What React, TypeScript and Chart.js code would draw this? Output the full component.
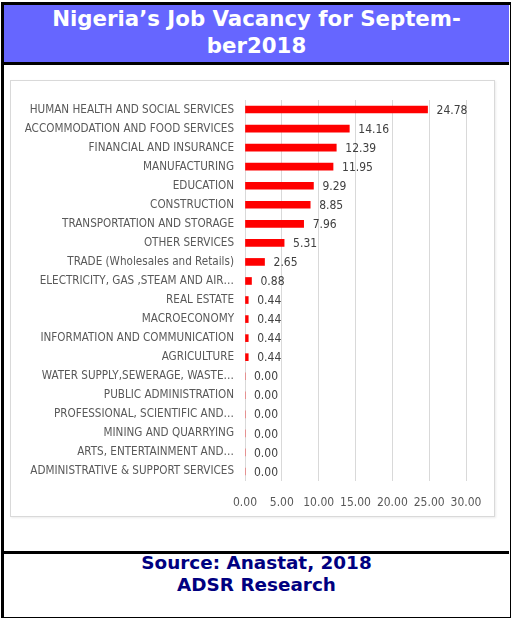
import React, { useEffect, useRef } from "react";
import { Chart, registerables } from "chart.js";

Chart.register(...registerables);

const categories = [
  "HUMAN HEALTH AND SOCIAL SERVICES",
  "ACCOMMODATION AND FOOD SERVICES",
  "FINANCIAL AND INSURANCE",
  "MANUFACTURING",
  "EDUCATION",
  "CONSTRUCTION",
  "TRANSPORTATION AND STORAGE",
  "OTHER SERVICES",
  "TRADE (Wholesales and Retails)",
  "ELECTRICITY, GAS ,STEAM AND AIR…",
  "REAL ESTATE",
  "MACROECONOMY",
  "INFORMATION AND COMMUNICATION",
  "AGRICULTURE",
  "WATER SUPPLY,SEWERAGE, WASTE…",
  "PUBLIC ADMINISTRATION",
  "PROFESSIONAL, SCIENTIFIC AND…",
  "MINING AND QUARRYING",
  "ARTS, ENTERTAINMENT AND…",
  "ADMINISTRATIVE & SUPPORT SERVICES",
];

const vacancyShare = [
  24.78, 14.16, 12.39, 11.95, 9.29, 8.85, 7.96, 5.31, 2.65, 0.88, 0.44, 0.44,
  0.44, 0.44, 0.0, 0.0, 0.0, 0.0, 0.0, 0.0,
];

const xMin = 0;
const xMax = 30;
const xStep = 5;

const titleLines = ["Nigeria’s Job Vacancy for Septem-", "ber2018"];
const sourceLines = ["Source: Anastat, 2018", "ADSR Research"];

const LABEL_FONT = "'Liberation Sans Narrow', 'DejaVu Sans Condensed', Arial, sans-serif";

const valueLabels = {
  id: "valueLabels",
  afterDatasetsDraw(chart: any) {
    const ctx = chart.ctx;
    const meta = chart.getDatasetMeta(0);
    const data = chart.data.datasets[0].data as number[];
    ctx.save();
    ctx.font = `12px ${LABEL_FONT}`;
    ctx.fillStyle = "#404040";
    ctx.textAlign = "left";
    ctx.textBaseline = "middle";
    meta.data.forEach((bar: any, i: number) => {
      ctx.fillText(Number(data[i]).toFixed(2), bar.x + 9, bar.y + 1);
    });
    ctx.restore();
  },
};

function BarChart() {
  const ref = useRef<HTMLCanvasElement | null>(null);
  useEffect(() => {
    if (!ref.current) return;
    const chart = new Chart(ref.current, {
      type: "bar",
      data: {
        labels: categories,
        datasets: [
          {
            data: vacancyShare,
            backgroundColor: "#FF0000",
            borderWidth: 0,
            barThickness: 7,
          },
        ],
      },
      plugins: [valueLabels],
      options: {
        indexAxis: "y",
        responsive: false,
        animation: false,
        devicePixelRatio: 1,
        layout: { padding: { top: 19, right: 28, bottom: 0, left: 0 } },
        plugins: {
          legend: { display: false },
          tooltip: { enabled: false },
          title: { display: false },
        },
        scales: {
          x: {
            min: xMin,
            max: xMax,
            ticks: {
              stepSize: xStep,
              padding: 15,
              color: "#595959",
              font: { family: LABEL_FONT, size: 12 },
              callback: (v: any) => Number(v).toFixed(2),
              maxRotation: 0,
            },
            grid: { color: "#d9d9d9", drawTicks: false },
            border: { display: false },
            afterFit: (s: any) => {
              s.height = 35;
              s.paddingRight = 0;
              s.paddingLeft = 0;
            },
          },
          y: {
            ticks: {
              padding: 11,
              color: "#595959",
              font: { family: LABEL_FONT, size: 11.6 },
              autoSkip: false,
            },
            grid: { display: false, drawTicks: false },
            border: { display: false },
            afterFit: (s: any) => {
              s.width = 234;
            },
          },
        },
      },
    });
    return () => chart.destroy();
  }, []);
  return <canvas ref={ref} width={483} height={435} style={{ width: 483, height: 435, display: "block" }} />;
}

export default function App() {
  return (
    <div
      style={{
        position: "absolute",
        left: 0,
        top: 0,
        width: 511,
        height: 618,
        background: "#fff",
        overflow: "hidden",
      }}
    >
      <div
        style={{
          position: "absolute",
          left: 1,
          top: 2,
          width: 506,
          height: 612,
          borderLeft: "3px solid #000",
          borderTop: "3px solid #000",
          borderRight: "2px solid #000",
          borderBottom: "2px solid #000",
        }}
      />
      <div
        style={{
          position: "absolute",
          left: 4,
          top: 5,
          width: 505,
          height: 57,
          background: "#6666FF",
          color: "#fff",
          fontFamily: "'DejaVu Sans', Verdana, sans-serif",
          fontWeight: "bold",
          fontSize: 21.3,
          lineHeight: "27px",
          textAlign: "center",
        }}
      >
        {titleLines.map((t, i) => (
          <div key={i}>{t}</div>
        ))}
      </div>
      <div style={{ position: "absolute", left: 4, top: 62, width: 505, height: 3, background: "#000" }} />
      <div
        style={{
          position: "absolute",
          left: 10,
          top: 80,
          width: 483,
          height: 435,
          border: "1px solid #d9d9d9",
          boxShadow: "1px 1px 2px rgba(0,0,0,0.08)",
          background: "#fff",
        }}
      >
        <BarChart />
      </div>
      <div style={{ position: "absolute", left: 4, top: 551, width: 505, height: 3, background: "#000" }} />
      <div
        style={{
          position: "absolute",
          left: 4,
          top: 552,
          width: 505,
          color: "#000080",
          fontFamily: "'DejaVu Sans', Verdana, sans-serif",
          fontWeight: "bold",
          fontSize: 18.4,
          lineHeight: "22px",
          textAlign: "center",
        }}
      >
        {sourceLines.map((t, i) => (
          <div key={i}>{t}</div>
        ))}
      </div>
    </div>
  );
}
